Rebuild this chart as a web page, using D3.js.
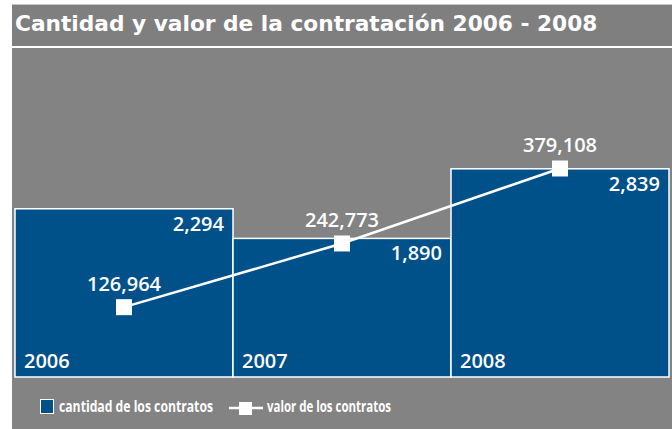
<!DOCTYPE html>
<head>
    <meta charset="utf-8">
    <script src="https://d3js.org/d3.v7.min.js"></script>
    <style>
        body { margin: 0; background: #fff; }
        text { font-family: "Open Sans", sans-serif; fill: #fff; }
    </style>
</head>

<body>
    <div id="chart"></div>
</body>

<script>

    // data
    const years = ["2006", "2007", "2008"];
    const cantidad = [2294, 1890, 2839];
    const valor = [126964, 242773, 379108];
    const legendLabels = ["cantidad de los contratos", "valor de los contratos"];
    const title = "Cantidad y valor de la contratación 2006 - 2008";

    const width = 672,
        height = 429;

    const blue = "#00508a",
        gray = "#838383";

    const svg = d3.select("#chart").append("svg")
        .attr("width", width)
        .attr("height", height);

    // title band + plot background
    svg.append("rect").attr("x", 12).attr("y", 4).attr("width", width - 12).attr("height", 42)
        .attr("fill", "#7f7f7f");
    svg.append("line").attr("x1", 12).attr("x2", width).attr("y1", 4.5).attr("y2", 4.5)
        .attr("stroke", "#c8c8c8").attr("stroke-width", 1);
    svg.append("rect").attr("x", 12).attr("y", 48).attr("width", width - 12).attr("height", height - 48)
        .attr("fill", gray);

    svg.append("text")
        .attr("x", 15).attr("y", 31)
        .style("font-family", "'DejaVu Sans', sans-serif")
        .style("font-size", "21.7px").style("font-weight", 700)
        .text(title);

    // scales
    const x = d3.scaleBand().domain(years).range([15, 669]).padding(0);
    const yCount = d3.scaleLinear().domain([0, 4500]).range([377, 47]);
    const yValue = d3.scaleLinear().domain([0, 600000]).range([377, 47]);

    const rows = years.map((y, i) => ({ year: y, n: cantidad[i], v: valor[i] }));

    // bars
    svg.selectAll("rect.bar").data(rows)
        .enter()
        .append("rect").attr("class", "bar")
        .attr("x", d => x(d.year))
        .attr("y", d => yCount(d.n))
        .attr("width", x.bandwidth())
        .attr("height", d => yCount(0) - yCount(d.n))
        .attr("fill", blue)
        .attr("stroke", "#fff")
        .attr("stroke-width", 1.5);

    const label = sel => sel.style("font-size", "20px").style("font-weight", 600);

    svg.selectAll("text.count").data(rows)
        .enter()
        .append("text").attr("class", "count")
        .attr("x", d => x(d.year) + x.bandwidth() - 9)
        .attr("y", d => yCount(d.n) + 22)
        .attr("text-anchor", "end")
        .call(label)
        .text(d => d3.format(",")(d.n));

    svg.selectAll("text.year").data(rows)
        .enter()
        .append("text").attr("class", "year")
        .attr("x", d => x(d.year) + 9)
        .attr("y", yCount(0) - 9)
        .call(label)
        .text(d => d.year);

    // line
    const line = d3.line()
        .x(d => x(d.year) + x.bandwidth() / 2)
        .y(d => yValue(d.v));

    svg.append("path")
        .datum(rows)
        .attr("d", line)
        .attr("fill", "none")
        .attr("stroke", "#fff")
        .attr("stroke-width", 2.5);

    svg.selectAll("rect.marker").data(rows)
        .enter()
        .append("rect").attr("class", "marker")
        .attr("x", d => x(d.year) + x.bandwidth() / 2 - 8)
        .attr("y", d => yValue(d.v) - 8)
        .attr("width", 16).attr("height", 16)
        .attr("fill", "#fff");

    svg.selectAll("text.value").data(rows)
        .enter()
        .append("text").attr("class", "value")
        .attr("x", d => x(d.year) + x.bandwidth() / 2)
        .attr("y", d => yValue(d.v) - 16)
        .attr("text-anchor", "middle")
        .call(label)
        .text(d => d3.format(",")(d.v));

    // legend (condensed text squeezed to the original widths)
    const legendFont = sel => sel
        .style("font-size", "16px").style("font-weight", 700)
        .attr("lengthAdjust", "spacingAndGlyphs");

    const lg = svg.append("g").attr("transform", "translate(0,408)");
    lg.append("rect").attr("x", 40.5).attr("y", -8.5).attr("width", 13).attr("height", 14)
        .attr("fill", blue).attr("stroke", "#fff").attr("stroke-width", 1);
    lg.append("text").attr("x", 59).attr("y", 4)
        .call(legendFont).attr("textLength", 154)
        .text(legendLabels[0]);
    lg.append("line").attr("x1", 229).attr("x2", 263).attr("y1", 0).attr("y2", 0)
        .attr("stroke", "#fff").attr("stroke-width", 2.5);
    lg.append("rect").attr("x", 239).attr("y", -6).attr("width", 13).attr("height", 13)
        .attr("fill", "#fff");
    lg.append("text").attr("x", 267).attr("y", 4)
        .call(legendFont).attr("textLength", 124)
        .text(legendLabels[1]);

</script>
